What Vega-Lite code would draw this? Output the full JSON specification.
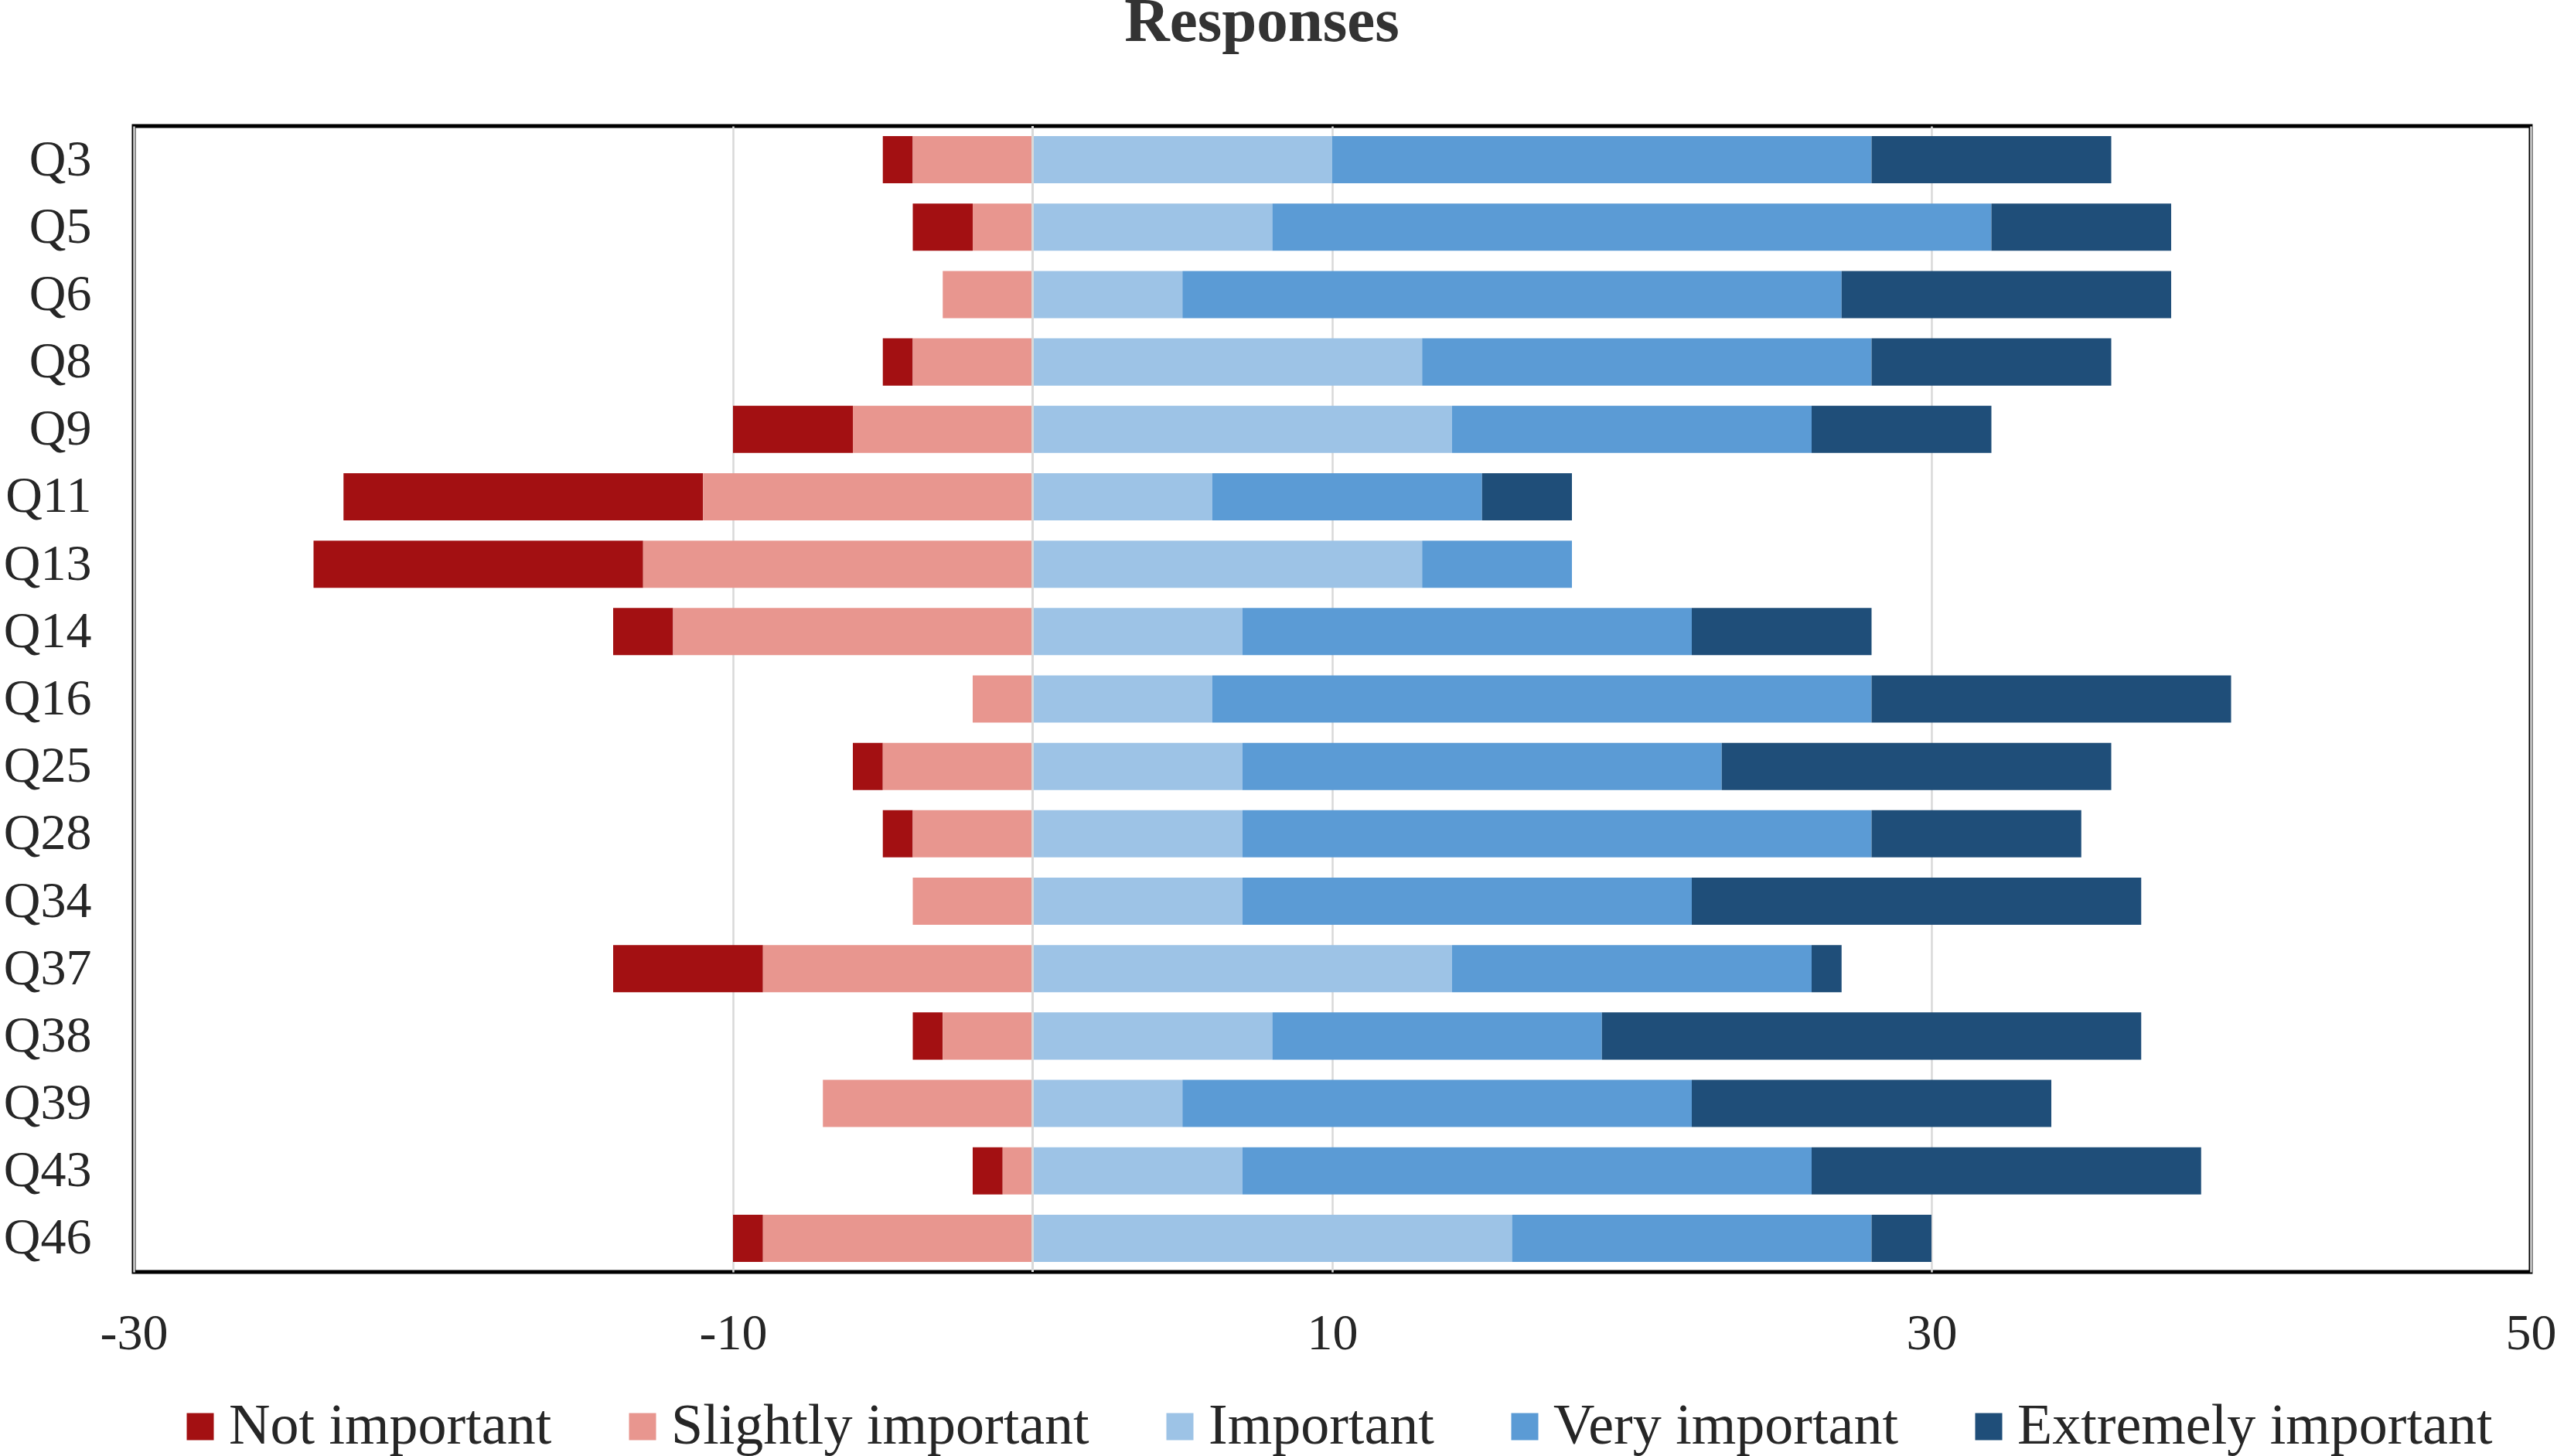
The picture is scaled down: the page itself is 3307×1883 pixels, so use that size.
{
  "$schema": "https://vega.github.io/schema/vega-lite/v6.json",
  "width": 3100,
  "height": 1482,
  "autosize": {"type": "none"},
  "padding": {"left": 173, "top": 163, "right": 34, "bottom": 238},
  "title": {
    "text": "Responses",
    "font": "Liberation Serif",
    "fontSize": 81,
    "fontWeight": "bold",
    "color": "#333333",
    "anchor": "middle",
    "frame": "group",
    "dx": -91,
    "offset": 92
  },
  "data": {
    "values": [
      {"q": "Q3", "level": "Not important", "value": -1},
      {"q": "Q3", "level": "Slightly important", "value": -4},
      {"q": "Q3", "level": "Important", "value": 10},
      {"q": "Q3", "level": "Very important", "value": 18},
      {"q": "Q3", "level": "Extremely important", "value": 8},
      {"q": "Q5", "level": "Not important", "value": -2},
      {"q": "Q5", "level": "Slightly important", "value": -2},
      {"q": "Q5", "level": "Important", "value": 8},
      {"q": "Q5", "level": "Very important", "value": 24},
      {"q": "Q5", "level": "Extremely important", "value": 6},
      {"q": "Q6", "level": "Slightly important", "value": -3},
      {"q": "Q6", "level": "Important", "value": 5},
      {"q": "Q6", "level": "Very important", "value": 22},
      {"q": "Q6", "level": "Extremely important", "value": 11},
      {"q": "Q8", "level": "Not important", "value": -1},
      {"q": "Q8", "level": "Slightly important", "value": -4},
      {"q": "Q8", "level": "Important", "value": 13},
      {"q": "Q8", "level": "Very important", "value": 15},
      {"q": "Q8", "level": "Extremely important", "value": 8},
      {"q": "Q9", "level": "Not important", "value": -4},
      {"q": "Q9", "level": "Slightly important", "value": -6},
      {"q": "Q9", "level": "Important", "value": 14},
      {"q": "Q9", "level": "Very important", "value": 12},
      {"q": "Q9", "level": "Extremely important", "value": 6},
      {"q": "Q11", "level": "Not important", "value": -12},
      {"q": "Q11", "level": "Slightly important", "value": -11},
      {"q": "Q11", "level": "Important", "value": 6},
      {"q": "Q11", "level": "Very important", "value": 9},
      {"q": "Q11", "level": "Extremely important", "value": 3},
      {"q": "Q13", "level": "Not important", "value": -11},
      {"q": "Q13", "level": "Slightly important", "value": -13},
      {"q": "Q13", "level": "Important", "value": 13},
      {"q": "Q13", "level": "Very important", "value": 5},
      {"q": "Q14", "level": "Not important", "value": -2},
      {"q": "Q14", "level": "Slightly important", "value": -12},
      {"q": "Q14", "level": "Important", "value": 7},
      {"q": "Q14", "level": "Very important", "value": 15},
      {"q": "Q14", "level": "Extremely important", "value": 6},
      {"q": "Q16", "level": "Slightly important", "value": -2},
      {"q": "Q16", "level": "Important", "value": 6},
      {"q": "Q16", "level": "Very important", "value": 22},
      {"q": "Q16", "level": "Extremely important", "value": 12},
      {"q": "Q25", "level": "Not important", "value": -1},
      {"q": "Q25", "level": "Slightly important", "value": -5},
      {"q": "Q25", "level": "Important", "value": 7},
      {"q": "Q25", "level": "Very important", "value": 16},
      {"q": "Q25", "level": "Extremely important", "value": 13},
      {"q": "Q28", "level": "Not important", "value": -1},
      {"q": "Q28", "level": "Slightly important", "value": -4},
      {"q": "Q28", "level": "Important", "value": 7},
      {"q": "Q28", "level": "Very important", "value": 21},
      {"q": "Q28", "level": "Extremely important", "value": 7},
      {"q": "Q34", "level": "Slightly important", "value": -4},
      {"q": "Q34", "level": "Important", "value": 7},
      {"q": "Q34", "level": "Very important", "value": 15},
      {"q": "Q34", "level": "Extremely important", "value": 15},
      {"q": "Q37", "level": "Not important", "value": -5},
      {"q": "Q37", "level": "Slightly important", "value": -9},
      {"q": "Q37", "level": "Important", "value": 14},
      {"q": "Q37", "level": "Very important", "value": 12},
      {"q": "Q37", "level": "Extremely important", "value": 1},
      {"q": "Q38", "level": "Not important", "value": -1},
      {"q": "Q38", "level": "Slightly important", "value": -3},
      {"q": "Q38", "level": "Important", "value": 8},
      {"q": "Q38", "level": "Very important", "value": 11},
      {"q": "Q38", "level": "Extremely important", "value": 18},
      {"q": "Q39", "level": "Slightly important", "value": -7},
      {"q": "Q39", "level": "Important", "value": 5},
      {"q": "Q39", "level": "Very important", "value": 17},
      {"q": "Q39", "level": "Extremely important", "value": 12},
      {"q": "Q43", "level": "Not important", "value": -1},
      {"q": "Q43", "level": "Slightly important", "value": -1},
      {"q": "Q43", "level": "Important", "value": 7},
      {"q": "Q43", "level": "Very important", "value": 19},
      {"q": "Q43", "level": "Extremely important", "value": 13},
      {"q": "Q46", "level": "Not important", "value": -1},
      {"q": "Q46", "level": "Slightly important", "value": -9},
      {"q": "Q46", "level": "Important", "value": 16},
      {"q": "Q46", "level": "Very important", "value": 12},
      {"q": "Q46", "level": "Extremely important", "value": 2}
    ]
  },
  "transform": [
    {
      "calculate": "indexof(['Slightly important','Not important','Important','Very important','Extremely important'], datum.level)",
      "as": "stackOrder"
    }
  ],
  "layer": [
    {
      "mark": {"type": "bar"},
      "encoding": {
        "y": {
          "field": "q",
          "type": "nominal",
          "sort": ["Q3", "Q5", "Q6", "Q8", "Q9", "Q11", "Q13", "Q14", "Q16", "Q25", "Q28", "Q34", "Q37", "Q38", "Q39", "Q43", "Q46"],
          "scale": {"paddingInner": 0.3, "paddingOuter": 0.15},
          "axis": {
            "title": null,
            "ticks": false,
            "domain": false,
            "labelFont": "Liberation Serif",
            "labelFontSize": 66,
            "labelColor": "#262626",
            "labelPadding": 55
          }
        },
        "x": {
          "field": "value",
          "type": "quantitative",
          "stack": "zero",
          "scale": {"domain": [-30, 50], "nice": false, "zero": false},
          "axis": {
            "title": null,
            "values": [-30, -10, 10, 30, 50],
            "labelExpr": "replace(datum.label, '\u2212', '-')",
            "grid": true,
            "gridColor": "#D9D9D9",
            "gridWidth": 2.5,
            "domain": false,
            "ticks": false,
            "labelFlush": false,
            "labelOverlap": false,
            "labelFont": "Liberation Serif",
            "labelFontSize": 66,
            "labelColor": "#262626",
            "labelPadding": 47
          }
        },
        "color": {
          "field": "level",
          "type": "nominal",
          "scale": {
            "domain": ["Not important", "Slightly important", "Important", "Very important", "Extremely important"],
            "range": ["#A31012", "#E8968F", "#9DC3E6", "#5B9BD5", "#1F4E79"]
          },
          "legend": {
            "title": null,
            "orient": "none",
            "direction": "horizontal",
            "legendX": 49,
            "legendY": 1645,
            "padding": 0,
            "symbolType": "square",
            "symbolSize": 1225,
            "symbolStrokeWidth": 0,
            "labelFont": "Liberation Serif",
            "labelFontSize": 74,
            "labelColor": "#262626",
            "labelOffset": 0,
            "columnPadding": 80,
            "labelLimit": 1000
          }
        },
        "order": {"field": "stackOrder", "type": "quantitative"}
      }
    },
    {
      "mark": {"type": "rule", "color": "#D9D9D9", "strokeWidth": 3},
      "encoding": {"x": {"datum": 0}}
    }
  ],
  "config": {
    "view": {"stroke": "black", "strokeWidth": 5},
    "background": "white"
  }
}
